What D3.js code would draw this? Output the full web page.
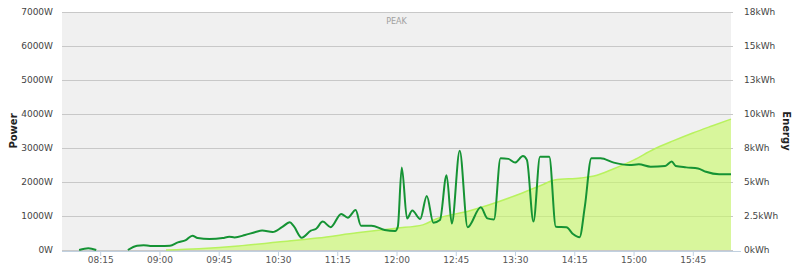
<!DOCTYPE html>
<html>
<head>
<meta charset="utf-8">
<script src="https://cdn.jsdelivr.net/npm/d3@7"></script>
<style>
  body { margin: 0; background: #fff; }
  text { font-family: "DejaVu Sans", sans-serif; }
</style>
</head>
<body>
<div id="chart"></div>
<script>
// power readings (W), null = no data
const powerTimes = ["07:59","08:06","08:12","08:20","08:36","08:43","08:48","08:53","09:00","09:08","09:14","09:20","09:25","09:29","09:38","09:48","09:53","09:57","10:05","10:13","10:18","10:26","10:33","10:39","10:42","10:48","10:55","10:59","11:04","11:10","11:18","11:23","11:29","11:33","11:41","11:51","11:59","12:01","12:04","12:08","12:12","12:18","12:23","12:28","12:33","12:38","12:42","12:48","12:54","13:04","13:09","13:14","13:19","13:25","13:30","13:36","13:39","13:44","13:49","13:56","14:01","14:09","14:14","14:19","14:23","14:28","14:35","14:45","14:57","15:04","15:13","15:24","15:29","15:32","15:40","15:49","15:55","16:05","16:14"];
const powerValues = [0,50,0,null,0,125,140,120,120,125,225,290,420,350,320,350,390,370,440,530,570,530,670,815,700,360,570,625,835,670,1060,950,1175,715,715,590,560,685,2430,930,1160,910,1590,800,880,2200,780,2920,670,1255,930,900,2700,2680,2570,2765,2650,835,2745,2745,685,670,470,375,1275,2700,2700,2570,2500,2520,2450,2470,2600,2470,2430,2400,2300,2225,2225];

// cumulative energy (kWh)
const energyTimes = ["09:05","09:30","10:00","10:30","11:00","11:30","12:00","12:20","12:30","12:55","13:10","13:30","13:50","14:00","14:20","14:30","14:45","15:00","15:15","15:30","15:45","16:00","16:14"];
const energyValues = [0,0.1,0.3,0.6,0.9,1.3,1.65,1.9,2.35,2.95,3.4,4.1,4.9,5.3,5.45,5.6,6.15,6.8,7.6,8.25,8.85,9.4,9.9];

const timeTicks = ["08:15","09:00","09:45","10:30","11:15","12:00","12:45","13:30","14:15","15:00","15:45"];
const powerTicks = [0,1000,2000,3000,4000,5000,6000,7000];
const energyTicks = [0,18/7,36/7,54/7,72/7,90/7,108/7,18];
const energyTickLabels = ["0kWh","2.5kWh","5kWh","8kWh","10kWh","13kWh","15kWh","18kWh"];

const width = 800, height = 269;
const plotLeft = 62, plotRight = 731, plotTop = 12, plotBottom = 250;

const parse = d3.timeParse("%H:%M");

const svg = d3.select("#chart").append("svg")
  .attr("width", width).attr("height", height);

const x = d3.scaleTime()
  .domain([parse("07:46"), parse("16:14")])
  .range([plotLeft, plotRight]);
const yP = d3.scaleLinear().domain([0, 7000]).range([plotBottom, plotTop]);
const yE = d3.scaleLinear().domain([0, 18]).range([plotBottom, plotTop]);

// plot background (peak band)
svg.append("rect")
  .attr("x", plotLeft).attr("y", plotTop)
  .attr("width", plotRight - plotLeft).attr("height", plotBottom - plotTop)
  .attr("fill", "#f0f0f0");

svg.append("text")
  .attr("x", (plotLeft + plotRight) / 2).attr("y", 24)
  .attr("text-anchor", "middle")
  .attr("fill", "#a0a0a0")
  .style("font-size", "8px")
  .text("PEAK");

// grid lines
svg.append("g")
  .selectAll("line")
  .data(powerTicks)
  .join("line")
  .attr("x1", plotLeft).attr("x2", plotRight + 2)
  .attr("y1", (d) => Math.round(yP(d)) + 0.5)
  .attr("y2", (d) => Math.round(yP(d)) + 0.5)
  .attr("stroke", "#c8c8c8");

// energy area
const energy = energyTimes.map((t, i) => ({ t: parse(t), v: energyValues[i] }));
const area = d3.area()
  .x((d) => x(d.t))
  .y0(plotBottom)
  .y1((d) => yE(d.v))
  .curve(d3.curveMonotoneX);
svg.append("path")
  .datum(energy)
  .attr("d", area)
  .attr("fill", "rgba(200,250,100,0.6)");
svg.append("path")
  .datum(energy)
  .attr("d", area.lineY1())
  .attr("fill", "none")
  .attr("stroke", "#b8f25e")
  .attr("stroke-width", 1.5);

// x axis
const xAxis = d3.axisBottom(x)
  .tickValues(timeTicks.map(parse))
  .tickFormat(d3.timeFormat("%H:%M"))
  .tickSize(5)
  .tickPadding(1)
  .tickSizeOuter(0);
const gx = svg.append("g")
  .attr("transform", `translate(0,${plotBottom + 1})`)
  .call(xAxis);
gx.select(".domain").attr("stroke", "#c0d0e0").attr("d", `M${plotLeft},0.5H${plotRight + 10}`);
gx.selectAll(".tick line").attr("stroke", "#c0d0e0");
gx.selectAll(".tick text")
  .attr("fill", "#555")
  .style("font-size", "9px")
  .style("font-family", "DejaVu Sans, sans-serif");

// power line
const power = powerTimes.map((t, i) => ({ t: parse(t), v: powerValues[i] }));
const line = d3.line()
  .defined((d) => d.v !== null)
  .x((d) => x(d.t))
  .y((d) => yP(d.v))
  .curve(d3.curveMonotoneX);
svg.append("path")
  .datum(power)
  .attr("d", line)
  .attr("fill", "none")
  .attr("stroke", "#159334")
  .attr("stroke-width", 2);

// left axis labels
const yAxisL = d3.axisLeft(yP)
  .tickValues(powerTicks)
  .tickFormat((d) => d + "W")
  .tickSize(0);
const gl = svg.append("g")
  .attr("transform", `translate(${plotLeft - 6},0)`)
  .call(yAxisL);
gl.select(".domain").remove();
gl.selectAll(".tick text")
  .attr("fill", "#444")
  .style("font-size", "9px")
  .style("font-family", "DejaVu Sans, sans-serif");

// right axis labels
const yAxisR = d3.axisRight(yE)
  .tickValues(energyTicks)
  .tickFormat((d, i) => energyTickLabels[i])
  .tickSize(0);
const gr = svg.append("g")
  .attr("transform", `translate(${plotRight + 10},0)`)
  .call(yAxisR);
gr.select(".domain").remove();
gr.selectAll(".tick text")
  .attr("fill", "#444")
  .style("font-size", "9px")
  .style("font-family", "DejaVu Sans, sans-serif");

// axis titles
svg.append("text")
  .attr("transform", `translate(17,${(plotTop + plotBottom) / 2}) rotate(-90)`)
  .attr("text-anchor", "middle")
  .attr("fill", "#222")
  .style("font-size", "10px")
  .style("font-weight", "bold")
  .text("Power");
svg.append("text")
  .attr("transform", `translate(783,${(plotTop + plotBottom) / 2}) rotate(90)`)
  .attr("text-anchor", "middle")
  .attr("fill", "#222")
  .style("font-size", "10px")
  .style("font-weight", "bold")
  .text("Energy");
</script>
</body>
</html>
